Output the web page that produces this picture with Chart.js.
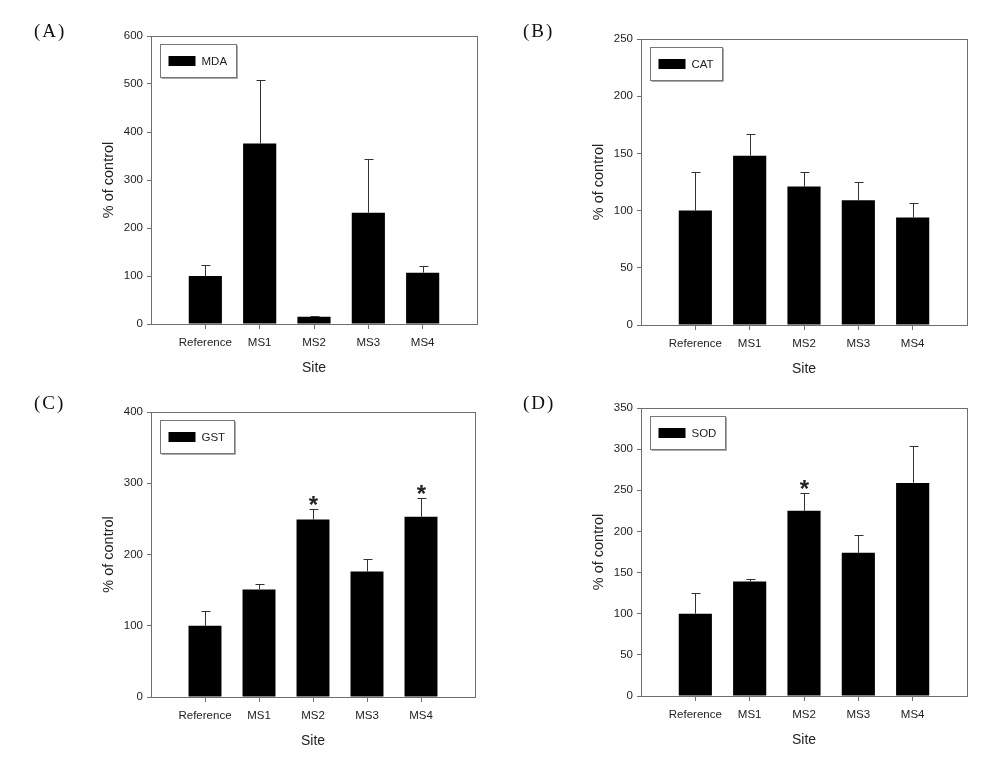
<!DOCTYPE html>
<html>
<head>
<meta charset="utf-8">
<script src="https://cdn.jsdelivr.net/npm/chart.js@4.4.0/dist/chart.umd.min.js"></script>
<style>
  body { margin: 0; background: #fff; }
  #page { position: relative; width: 996px; height: 764px; overflow: hidden; }
  .panel { position: absolute; width: 498px; height: 382px; }
  .tag { position: absolute; font-family: 'Liberation Serif', 'Times New Roman', serif; font-size: 19px; letter-spacing: 2px; color: #111; line-height: 20px; }
</style>
</head>
<body>
<div id="page">
  <div class="panel" style="left:0;top:0"><canvas id="chartA" width="498" height="382"></canvas></div>
  <div class="panel" style="left:498px;top:0"><canvas id="chartB" width="498" height="382"></canvas></div>
  <div class="panel" style="left:0;top:382px"><canvas id="chartC" width="498" height="382"></canvas></div>
  <div class="panel" style="left:498px;top:382px"><canvas id="chartD" width="498" height="382"></canvas></div>
  <div class="tag" style="left:34px;top:21px">(A)</div>
  <div class="tag" style="left:523px;top:21px">(B)</div>
  <div class="tag" style="left:34px;top:393px">(C)</div>
  <div class="tag" style="left:523px;top:393px">(D)</div>
</div>
<script>
// values (% of control)
const sites = ['Reference', 'MS1', 'MS2', 'MS3', 'MS4'];

const mdaMean = [100, 376, 15, 232, 107];
const mdaErr = [22, 132, 2, 112, 13];

const catMean = [100, 148, 121, 109, 94];
const catErr = [34, 19, 13, 16, 13];

const gstMean = [100, 151, 249, 176, 253];
const gstErr = [21, 7, 15, 18, 26];
const gstSig = [false, false, true, false, true];

const sodMean = [100, 139, 225, 174, 259];
const sodErr = [25, 3, 22, 22, 45];
const sodSig = [false, false, true, false, false];

Chart.defaults.font.family = "'Liberation Sans', Arial, sans-serif";
Chart.defaults.color = '#222';

const frameColor = '#6e6e6e';

// error bars, asterisks, frame and inset legend
const extras = {
  id: 'extras',
  afterDatasetsDraw(chart) {
    const ctx = chart.ctx;
    const ds = chart.data.datasets[0];
    const meta = chart.getDatasetMeta(0);
    const y = chart.scales.y;
    ctx.save();
    ctx.strokeStyle = '#333';
    ctx.lineWidth = 1;
    ds.data.forEach((v, i) => {
      if (v == null) return;
      const x = Math.round(meta.data[i].x) + 0.5;
      const y0 = y.getPixelForValue(v);
      const y1 = Math.round(y.getPixelForValue(v + ds.errors[i])) + 0.5;
      ctx.beginPath();
      ctx.moveTo(x, y0);
      ctx.lineTo(x, y1);
      ctx.moveTo(x - 4, y1);
      ctx.lineTo(x + 5, y1);
      ctx.stroke();
      if (ds.sig && ds.sig[i]) {
        ctx.fillStyle = '#222';
        ctx.font = "bold 24px 'Liberation Sans', Arial, sans-serif";
        ctx.textAlign = 'center';
        ctx.textBaseline = 'alphabetic';
        ctx.fillText('*', x, y1 + 3);
      }
    });
    ctx.restore();
  },
  afterDraw(chart) {
    const ctx = chart.ctx;
    const a = chart.chartArea;
    ctx.save();
    ctx.strokeStyle = frameColor;
    ctx.lineWidth = 1;
    const l = Math.round(a.left) + 0.5, r = Math.round(a.right) + 0.5;
    const t = Math.round(a.top) + 0.5, b = Math.round(a.bottom) + 0.5;
    ctx.strokeRect(l, t, r - l, b - t);

    // inset legend
    const label = chart.data.datasets[0].label;
    ctx.font = "11.5px 'Liberation Sans', Arial, sans-serif";
    const tw = ctx.measureText(label).width;
    const bx = Math.round(a.left + 9) + 0.5, by = Math.round(a.top + 8) + 0.5;
    const bw = Math.round(8 + 27 + 6 + tw + 9), bh = 33;
    ctx.fillStyle = '#fff';
    ctx.fillRect(bx, by, bw, bh);
    ctx.strokeStyle = '#777';
    ctx.strokeRect(bx, by, bw, bh);
    ctx.strokeStyle = '#aaa';
    ctx.beginPath();
    ctx.moveTo(bx + 1, by + bh + 1);
    ctx.lineTo(bx + bw + 1, by + bh + 1);
    ctx.lineTo(bx + bw + 1, by + 1);
    ctx.stroke();
    ctx.fillStyle = '#000';
    ctx.fillRect(bx + 8, by + bh / 2 - 5, 27, 10);
    ctx.fillStyle = '#222';
    ctx.textAlign = 'left';
    ctx.textBaseline = 'middle';
    ctx.fillText(label, bx + 8 + 27 + 6, by + bh / 2 + 1);
    ctx.restore();
  }
};

function makePanel(id, name, mean, err, sig, yMax, yStep, area) {
  const yWidth = 51;
  const xHeight = 55;
  new Chart(document.getElementById(id), {
    type: 'bar',
    data: {
      labels: ['', ...sites, ''],
      datasets: [{
        label: name,
        data: [null, ...mean, null],
        errors: [0, ...err, 0],
        sig: sig ? [false, ...sig, false] : null,
        backgroundColor: '#000',
        borderWidth: 0,
        categoryPercentage: 1,
        barPercentage: 0.61
      }]
    },
    options: {
      responsive: false,
      animation: false,
      layout: {
        padding: {
          left: area.l - yWidth,
          right: 498 - area.r,
          top: area.t,
          bottom: 382 - area.b - xHeight
        }
      },
      plugins: {
        legend: { display: false },
        tooltip: { enabled: false }
      },
      scales: {
        x: {
          offset: false,
          afterFit: s => { s.height = xHeight; },
          border: { display: false },
          grid: {
            offset: false,
            drawOnChartArea: false,
            tickLength: 5,
            tickColor: c => (c.tick && c.tick.label) ? frameColor : 'rgba(0,0,0,0)'
          },
          ticks: { autoSkip: false, maxRotation: 0, padding: 7, font: { size: 11.5 }, color: '#222' },
          title: { display: true, text: 'Site', font: { size: 14 }, color: '#222', padding: { top: 0, bottom: 2 } }
        },
        y: {
          min: 0,
          max: yMax,
          afterFit: s => { s.width = yWidth; },
          border: { display: false },
          grid: { drawOnChartArea: false, tickLength: 4, tickColor: frameColor },
          ticks: { stepSize: yStep, padding: 4, font: { size: 11.5 }, color: '#222' },
          title: { display: true, text: '% of control', font: { size: 14.5 }, color: '#222', padding: { top: 0, bottom: 0 } }
        }
      }
    },
    plugins: [extras]
  });
}

makePanel('chartA', 'MDA', mdaMean, mdaErr, null, 600, 100, { l: 151, r: 477, t: 36, b: 324 });
makePanel('chartB', 'CAT', catMean, catErr, null, 250, 50, { l: 143, r: 469, t: 39, b: 325 });
makePanel('chartC', 'GST', gstMean, gstErr, gstSig, 400, 100, { l: 151, r: 475, t: 30, b: 315 });
makePanel('chartD', 'SOD', sodMean, sodErr, sodSig, 350, 50, { l: 143, r: 469, t: 26, b: 314 });
</script>
</body>
</html>
